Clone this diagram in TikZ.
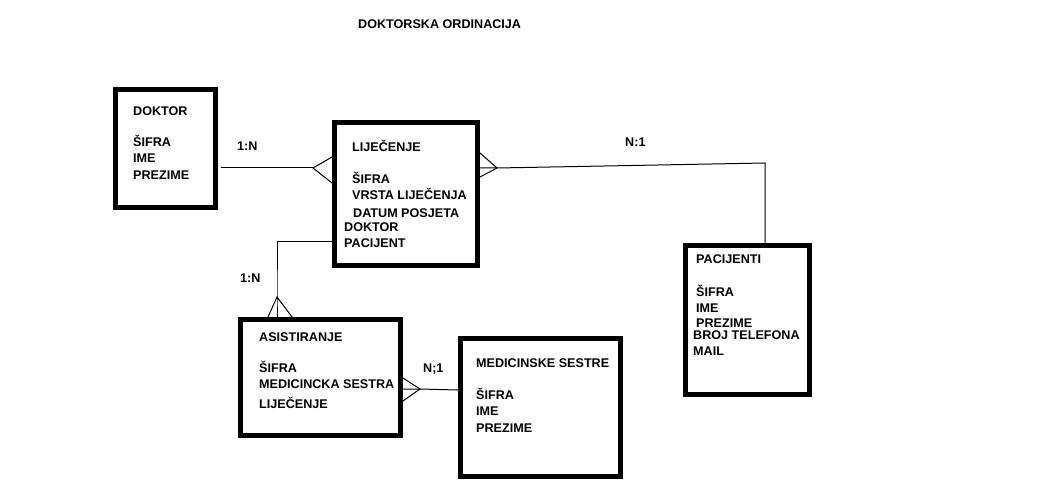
\documentclass[tikz,border=0pt]{standalone}
\usepackage{fontspec}
\setmainfont{Liberation Sans}
\begin{document}
\begin{tikzpicture}[x=1pt,y=-1pt,
  box/.style={draw,line width=5pt,inner sep=0pt,rectangle},
  lbl/.style={anchor=base west,inner sep=0pt,font=\fontsize{12.6}{15}\selectfont\bfseries},
  conn/.style={line width=1pt}]
\useasboundingbox (0,0) rectangle (1046,481);
% boxes
\node[box,minimum width=100pt,minimum height=118pt] (dok) at (165.5,148.5) {};
\node[box,minimum width=143pt,minimum height=143pt] (lij) at (406,194) {};
\node[box,minimum width=160pt,minimum height=116pt] (ase) at (320.5,377.5) {};
\node[box,minimum width=160pt,minimum height=138pt] (med) at (540.5,407.5) {};
\node[box,minimum width=124pt,minimum height=149pt] (pac) at (747.5,320) {};
% title
\node[lbl] (title) at (358,29) {DOKTORSKA ORDINACIJA};
% DOKTOR
\node[lbl] (d1) at (133,116) {DOKTOR};
\node[lbl] (d2) at (133,147) {ŠIFRA};
\node[lbl] (d3) at (133,163) {IME};
\node[lbl] (d4) at (133,179) {PREZIME};
% LIJECENJE
\node[lbl] (l1) at (352,152) {LIJEČENJE};
\node[lbl] (l2) at (352,184) {ŠIFRA};
\node[lbl] (l3) at (352,200) {VRSTA LIJEČENJA};
\node[lbl] (l4) at (353,217) {DATUM POSJETA};
\node[lbl] (l5) at (344,231) {DOKTOR};
\node[lbl] (l6) at (344,247) {PACIJENT};
% ASISTIRANJE
\node[lbl] (a1) at (259,341) {ASISTIRANJE};
\node[lbl] (a2) at (259,372) {ŠIFRA};
\node[lbl] (a3) at (259,388) {MEDICINCKA SESTRA};
\node[lbl] (a4) at (259,408) {LIJEČENJE};
% MEDICINSKE SESTRE
\node[lbl] (m1) at (476,367) {MEDICINSKE SESTRE};
\node[lbl] (m2) at (476,399) {ŠIFRA};
\node[lbl] (m3) at (476,415) {IME};
\node[lbl] (m4) at (476,432) {PREZIME};
% PACIJENTI
\node[lbl] (p1) at (696,263) {PACIJENTI};
\node[lbl] (p2) at (696,296) {ŠIFRA};
\node[lbl] (p3) at (696,312) {IME};
\node[lbl] (p4) at (696,327) {PREZIME};
\node[lbl] (p5) at (693,339) {BROJ TELEFONA};
\node[lbl] (p6) at (693,355) {MAIL};
% cardinality labels
\node[lbl] (r1) at (237,151) {1:N};
\node[lbl] (r2) at (625,147) {N:1};
\node[lbl] (r3) at (240,282) {1:N};
\node[lbl] (r4) at (423,372) {N;1};
% DOKTOR - LIJECENJE
\coordinate (f1) at (313,168);
\draw[conn] ([xshift=3pt]dok.east |- f1) -- (f1);
\draw[conn] (lij.west |- 0,157) -- (f1) -- (lij.west |- 0,183);
% LIJECENJE - PACIJENTI
\coordinate (f2) at (497,168);
\coordinate (b2) at (765,163);
\draw[conn] (lij.east |- 0,153) -- (f2) -- (lij.east |- 0,177);
\draw[conn] (lij.east |- f2) -- (f2) -- (b2) -- (b2 |- pac.north);
% LIJECENJE - ASISTIRANJE
\coordinate (k3) at (277,241);
\coordinate (f3) at (277,297);
\draw[conn] (lij.west |- k3) -- (k3) -- (f3) -- (f3 |- ase.north);
\draw[conn] (ase.north -| 268,0) -- (f3) -- (ase.north -| 292,0);
% ASISTIRANJE - MEDICINSKE SESTRE
\coordinate (f4) at (420,389);
\draw[conn] (ase.east |- 0,378) -- (f4) -- (ase.east |- 0,401);
\draw[conn] (ase.east |- f4) -- (f4) -- (med.west |- 0,390);
\end{tikzpicture}
\end{document}
